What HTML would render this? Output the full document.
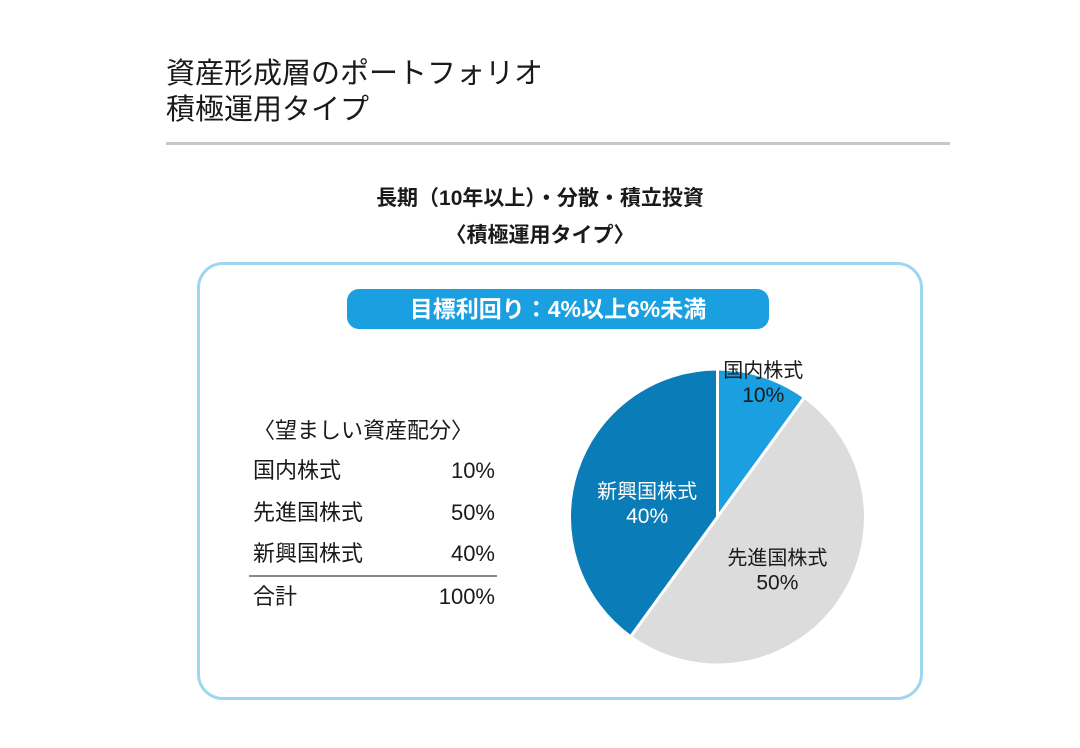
<!DOCTYPE html>
<html><head><meta charset="utf-8">
<style>
body{margin:0;width:1080px;height:748px;background:#fff;font-family:"Liberation Sans","Noto Sans CJK JP",sans-serif;color:#1a1a1a;position:relative;overflow:hidden}
.abs{position:absolute}
.title{left:166px;top:56px;font-size:29px;line-height:36px;font-weight:400}
.rule{left:166px;top:142px;width:784px;height:3px;background:#c8c8c8}
.sub{left:0;width:1080px;text-align:center;font-size:21px;font-weight:700}
.box{left:197px;top:262px;width:720px;height:432px;border:3px solid #9fd6ef;border-radius:26px}
.pill{left:347px;top:289px;width:422px;height:40px;background:#1a9fe0;border-radius:12px;color:#fff;font-size:23px;font-weight:700;text-align:center;line-height:40px}
.row{left:253px;width:242px;font-size:22px;height:30px;line-height:30px;display:flex;justify-content:space-between}
</style></head><body>
<div class="abs title">資産形成層のポートフォリオ<br>積極運用タイプ</div>
<div class="abs rule"></div>
<div class="abs sub" style="top:182px">長期（10年以上）・分散・積立投資</div>
<div class="abs sub" style="top:219px">〈積極運用タイプ〉</div>
<div class="abs box"></div>
<div class="abs pill">目標利回り：4%以上6%未満</div>
<div class="abs" style="left:253px;top:416px;font-size:22px;line-height:30px">〈望ましい資産配分〉</div>
<div class="abs row" style="top:456px"><span>国内株式</span><span>10%</span></div>
<div class="abs row" style="top:498px"><span>先進国株式</span><span>50%</span></div>
<div class="abs row" style="top:539px"><span>新興国株式</span><span>40%</span></div>
<div class="abs" style="left:249px;top:575px;width:248px;height:2px;background:#888"></div>
<div class="abs row" style="top:582px"><span>合計</span><span>100%</span></div>
<svg class="abs" style="left:0;top:0" width="1080" height="748" id="pie"></svg>
<script>
const categories=["国内株式","先進国株式","新興国株式"];
const values=[10,50,40];
const colors=["#1a9fe0","#dcdcdc","#0a7db8"];
const textColors=["#1a1a1a","#1a1a1a","#ffffff"];
const cx=717.5,cy=517,r=148;
const svg=document.getElementById('pie');
const NS="http://www.w3.org/2000/svg";
const total=values.reduce((a,b)=>a+b,0);
let acc=0;
const pt=(f,rr)=>[cx+rr*Math.sin(f*2*Math.PI),cy-rr*Math.cos(f*2*Math.PI)];
values.forEach((v,i)=>{
  const f0=acc/total,f1=(acc+v)/total;acc+=v;
  const [x0,y0]=pt(f0,r),[x1,y1]=pt(f1,r);
  const p=document.createElementNS(NS,'path');
  p.setAttribute('d',`M${cx},${cy}L${x0},${y0}A${r},${r} 0 ${f1-f0>0.5?1:0} 1 ${x1},${y1}Z`);
  p.setAttribute('fill',colors[i]);p.setAttribute('stroke','#fff');p.setAttribute('stroke-width','3');
  
  
  svg.appendChild(p);
  const fm=(f0+f1)/2;
  const small=v<=15;
  let [lx,ly]=pt(fm,r*(small?1.0:0.5));
  ly+= small?1:4;
  const t=document.createElementNS(NS,'text');
  t.setAttribute('x',lx);t.setAttribute('y',ly);t.setAttribute('text-anchor','middle');
  t.setAttribute('font-size','20');t.setAttribute('fill',textColors[i]);
  t.setAttribute('font-family','"Liberation Sans","Noto Sans CJK JP",sans-serif');
  
  
  const s1=document.createElementNS(NS,'tspan');s1.setAttribute('x',lx);s1.textContent=categories[i];
  const s2=document.createElementNS(NS,'tspan');s2.setAttribute('x',lx);s2.setAttribute('dy','25');s2.setAttribute('font-size','21');s2.textContent=v+'%';
  t.appendChild(s1);t.appendChild(s2);svg.appendChild(t);
});
</script>
</body></html>
